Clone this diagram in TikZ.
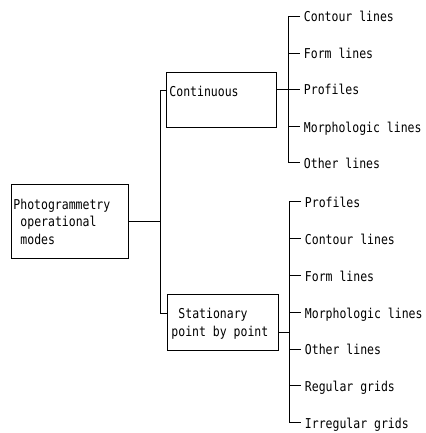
\documentclass[tikz,border=0pt]{standalone}
\usepackage{fontspec}
\setmonofont[FakeStretch=0.845]{DejaVu Sans Mono}
\begin{document}
\begin{tikzpicture}[x=1pt,y=-1pt,line width=0.9pt,
  txt/.style={font=\ttfamily\fontsize{13.6}{16}\selectfont},
  lbl/.style={txt, inner sep=0pt, anchor=base west},
  item/.style={txt, anchor=west, inner xsep=3.5pt, inner ysep=0pt, text height=11pt, text depth=0pt},
  box/.style={draw, rectangle, inner sep=0pt, outer sep=0pt, anchor=north west}]
\useasboundingbox (0,0) rectangle (425,433);
% boxes
\node[box, minimum width=117pt, minimum height=74pt] (main) at (11,184) {};
\node[box, minimum width=110pt, minimum height=55pt] (cont) at (166,72) {};
\node[box, minimum width=111pt, minimum height=56pt] (stat) at (167,294) {};
% box texts
\node[lbl] (mainA) at (13,209) {Photogrammetry};
\node[lbl] (mainB) at (20,226) {operational};
\node[lbl] (mainC) at (20,244) {modes};
\node[lbl] (contA) at (169,96.5) {Continuous};
\node[lbl] (statA) at (178,318) {Stationary};
\node[lbl] (statB) at (171,336) {point by point};
% continuous items
\node[item] (c1) at (300,16.5) {Contour lines};
\node[item] (c2) at (300,53.5) {Form lines};
\node[item] (c3) at (300,89.5) {Profiles};
\node[item] (c4) at (300,126.5) {Morphologic lines};
\node[item] (c5) at (300,162.5) {Other lines};
% stationary items
\node[item] (s1) at (301,201.5) {Profiles};
\node[item] (s2) at (301,238.5) {Contour lines};
\node[item] (s3) at (301,275.5) {Form lines};
\node[item] (s4) at (301,312.5) {Morphologic lines};
\node[item] (s5) at (301,349) {Other lines};
\node[item] (s6) at (301,385.5) {Regular grids};
\node[item] (s7) at (301,422.5) {Irregular grids};
% coordinates
\coordinate (bxC) at (288,0);
\coordinate (bxS) at (289,0);
\coordinate (tA) at (160,90);
\coordinate (tB) at (160,313);
\coordinate (sj) at (289,332);
% trunk
\draw (cont.west |- tA) -- (tA) -- (tB) -- (stat.west |- tB);
\draw (main.east) -- (main.east -| tA);
% continuous bracket
\draw (c1.west) -- (c1.west -| bxC) -- (c5.west -| bxC) -- (c5.west);
\foreach \i in {2,3,4} \draw (c\i.west -| bxC) -- (c\i.west);
\draw (cont.east |- c3.west) -- (c3.west -| bxC);
% stationary bracket
\draw (s1.west) -- (s1.west -| bxS) -- (s7.west -| bxS) -- (s7.west);
\foreach \i in {2,...,6} \draw (s\i.west -| bxS) -- (s\i.west);
\draw (stat.east |- sj) -- (sj);
\end{tikzpicture}
\end{document}
